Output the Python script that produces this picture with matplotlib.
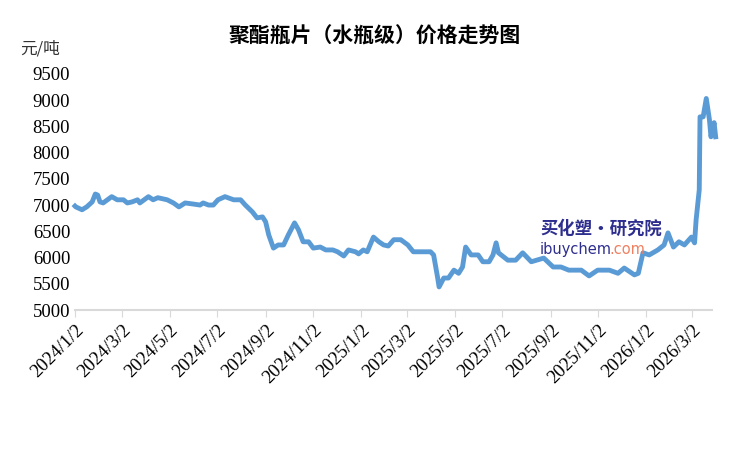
import matplotlib
matplotlib.use("Agg")
import matplotlib.pyplot as plt
import pandas as pd

plt.rcParams['font.family'] = ['Liberation Serif', 'Noto Sans CJK SC']

start = "2024-01-02"
day_offsets = [0, 1, 9, 15, 22, 26, 29, 32, 36, 47, 54, 62, 67, 73, 80, 83, 94, 100, 106, 118, 126, 133, 141, 151, 160, 164, 171, 177,
               183, 192, 203, 212, 218, 227, 233, 240, 244, 248, 254, 260, 267, 273, 281, 286, 292, 299, 305, 314, 321, 330,
               336, 344, 350, 359, 363, 369, 374, 382, 389, 395, 401, 408, 414, 417, 426, 433, 442, 455, 459, 464, 466, 472,
               478, 485, 491, 496, 500, 507, 516, 522, 530, 535, 539, 542, 554, 564, 573, 584, 600, 612, 622, 632, 648, 658,
               669, 684, 695, 703, 716, 721, 727, 735, 746, 754, 759, 766, 773, 780, 789, 793, 795, 799, 800, 804, 808, 812,
               814, 818, 820]
prices = [6980, 6965, 6910, 6965, 7060, 7210, 7190, 7060, 7040, 7160, 7100, 7100, 7040, 7060, 7100, 7040, 7160, 7100, 7140,
          7100, 7040, 6965, 7040, 7020, 7000, 7040, 7000, 7000, 7100, 7160, 7100, 7100, 7000, 6870, 6755, 6775, 6680, 6430,
          6180, 6240, 6240, 6430, 6660, 6530, 6300, 6300, 6180, 6200, 6145, 6145, 6110, 6030, 6145, 6110, 6070, 6145, 6110,
          6390, 6300, 6240, 6220, 6340, 6340, 6340, 6240, 6110, 6110, 6110, 6050, 5630, 5440, 5610, 5610, 5760, 5700, 5820,
          6200, 6050, 6050, 5920, 5920, 6050, 6280, 6090, 5950, 5950, 6090, 5920, 5990, 5820, 5820, 5760, 5760, 5650, 5760,
          5760, 5700, 5800, 5670, 5700, 6090, 6050, 6145, 6240, 6470, 6200, 6300, 6240, 6390, 6280, 6720, 7290, 8680, 8680,
          9030, 8630, 8300, 8570, 8300]
tick_labels = ["2024/1/2", "2024/3/2", "2024/5/2", "2024/7/2", "2024/9/2", "2024/11/2", "2025/1/2", "2025/3/2",
               "2025/5/2", "2025/7/2", "2025/9/2", "2025/11/2", "2026/1/2", "2026/3/2"]
yticks = list(range(5000, 10000, 500))

dates = pd.Timestamp(start) + pd.to_timedelta(day_offsets, unit="D")
tick_dates = pd.to_datetime(tick_labels, format="%Y/%m/%d")

fig = plt.figure(figsize=(7.5, 4.5), dpi=100)
ax = fig.add_axes([0.1, 0.311, 0.849, 0.525])
ax.plot(dates, prices, color="#5B9BD5", lw=3.5, solid_joinstyle="round", clip_on=False)
ax.set_ylim(5000, 9500)
ax.set_yticks(yticks)
ax.set_xlim(pd.Timestamp(start), pd.Timestamp(start) + pd.Timedelta(days=815))
ax.set_xticks(tick_dates)
ax.set_xticklabels(tick_labels, rotation=45, ha="right", rotation_mode="anchor", fontsize=13.5)
ax.tick_params(axis="y", length=0, labelsize=13.5)
ax.tick_params(axis="x", length=5, color="#D9D9D9", direction="out")
for s in ["top", "right", "left"]:
    ax.spines[s].set_visible(False)
ax.spines["bottom"].set_color("#D9D9D9")
ax.spines["bottom"].set_linewidth(1.5)

fig.text(0.5, 0.905, "聚酯瓶片（水瓶级）价格走势图", ha="center", fontsize=15, fontweight="bold",
         family=["Noto Sans CJK SC"])
fig.text(0.027, 0.88, "元/吨", fontsize=12, family=["Noto Sans CJK SC"], color="#333333")
fig.text(0.72, 0.48, "买化塑·研究院", fontsize=12.5, fontweight="bold", color="#2E2E8F",
         family=["Noto Sans CJK SC"], style="italic")
fig.text(0.72, 0.435, "ibuychem", fontsize=10.5, color="#2E2E8F", family=["DejaVu Sans"])
fig.text(0.813, 0.435, ".com", fontsize=10.5, color="#F08060", family=["DejaVu Sans"])

fig.savefig("out.png", dpi=100)
